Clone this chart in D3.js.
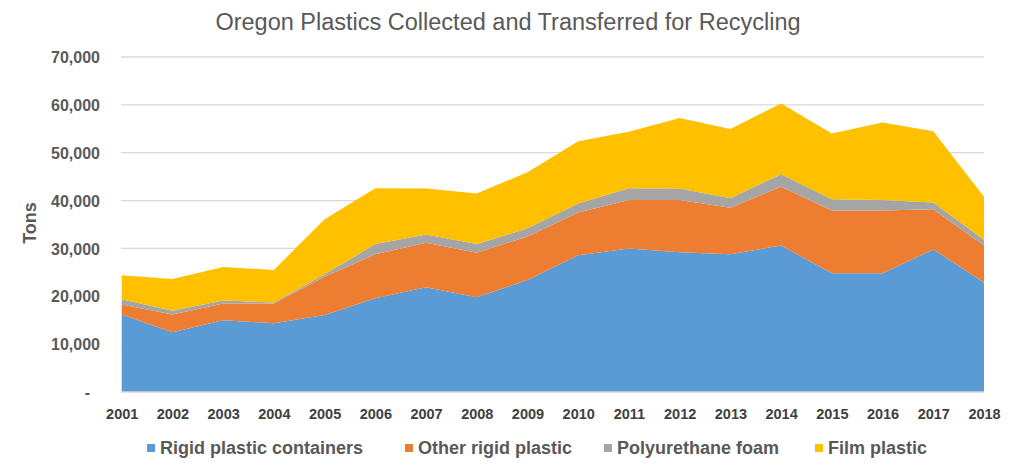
<!DOCTYPE html>
<html><head><meta charset="utf-8">
<script src="https://cdn.jsdelivr.net/npm/d3@7"></script>
<style>body{margin:0;background:#fff}svg{display:block}</style>
</head><body>
<script>
const years = [2001,2002,2003,2004,2005,2006,2007,2008,2009,2010,2011,2012,2013,2014,2015,2016,2017,2018];
const rigidContainers = [16200,12500,15000,14350,16100,19600,21900,19800,23400,28600,30000,29200,28800,30600,24800,24800,29800,22900];
const otherRigid = [2100,3700,3500,4150,8000,9200,9300,9300,9100,8900,10100,10900,9700,12300,13100,13100,8400,7700];
const polyFoam = [1100,800,600,200,500,2100,1700,1800,1700,1900,2500,2400,2000,2600,2400,2200,1400,1200];
const filmPlastic = [5000,6600,7000,6800,11500,11700,9600,10600,11700,13000,11800,14750,14450,14800,13700,16200,14900,9000];
const seriesNames = ["Rigid plastic containers","Other rigid plastic","Polyurethane foam","Film plastic"];
const colors = ["#5B9BD5","#ED7D31","#A5A5A5","#FFC000"];
const yTicks = [0,10000,20000,30000,40000,50000,60000,70000];

const W=1015,H=466;
const svg=d3.select("body").append("svg").attr("width",W).attr("height",H);
const x=d3.scalePoint().domain(years).range([121.7,984]);
const y=d3.scaleLinear().domain([0,70000]).range([392,57]);

const rows=years.map((yr,i)=>({year:yr,a:rigidContainers[i],b:otherRigid[i],c:polyFoam[i],d:filmPlastic[i]}));
const stack=d3.stack().keys(["a","b","c","d"])(rows);

// gridlines
svg.append("g").selectAll("line").data(yTicks.filter(t=>t>0)).join("line")
  .attr("x1",121).attr("x2",984).attr("y1",d=>y(d)).attr("y2",d=>y(d))
  .attr("stroke","#d9d9d9").attr("stroke-width",1.3);

const area=d3.area().x(d=>x(d.data.year)).y0(d=>y(d[0])).y1(d=>y(d[1]));
svg.append("g").selectAll("path").data(stack).join("path")
  .attr("d",area).attr("fill",(d,i)=>colors[i]);

// baseline
svg.append("line").attr("x1",121).attr("x2",984).attr("y1",y(0)).attr("y2",y(0)).attr("stroke","#d9d9d9").attr("stroke-width",1.3);

// y axis
const yAxis=d3.axisLeft(y).tickValues(yTicks).tickSize(0).tickPadding(0)
  .tickFormat(d=>d===0?"-":d3.format(",")(d));
const ga=svg.append("g").attr("transform","translate(100,0)").call(yAxis);
ga.select(".domain").remove();
ga.selectAll("text").attr("font-family","'Liberation Sans',Arial,sans-serif").attr("font-weight","bold")
  .attr("font-size","16px").attr("fill","#595959").attr("dy","0.35em")
  .attr("dx",d=>d===0?"-10":"0");

// x axis
const xAxis=d3.axisBottom(x).tickSize(0).tickPadding(0);
const gx=svg.append("g").attr("transform","translate(0,409)").call(xAxis);
gx.select(".domain").remove();
gx.selectAll("text").attr("font-family","'Liberation Sans',Arial,sans-serif").attr("font-weight","bold")
  .attr("font-size","14.5px").attr("fill","#404040").attr("dy","0.71em");

// title
svg.append("text").attr("x",508).attr("y",30).attr("text-anchor","middle")
  .attr("font-family","'Liberation Sans',Arial,sans-serif").attr("font-size","23.5px").attr("fill","#595959")
  .text("Oregon Plastics Collected and Transferred for Recycling");

// y label
svg.append("text").attr("transform","translate(36,223) rotate(-90)").attr("text-anchor","middle")
  .attr("font-family","'Liberation Sans',Arial,sans-serif").attr("font-weight","bold").attr("font-size","18px").attr("fill","#595959")
  .text("Tons");

// legend
const legX=[147,405,604,815];
const lg=svg.append("g").selectAll("g").data(seriesNames).join("g")
  .attr("transform",(d,i)=>`translate(${legX[i]},448)`);
lg.append("rect").attr("x",0).attr("y",-4).attr("width",8).attr("height",8).attr("fill",(d,i)=>colors[i]);
lg.append("text").attr("x",13).attr("dy","0.36em")
  .attr("font-family","'Liberation Sans',Arial,sans-serif").attr("font-weight","bold").attr("font-size","18px").attr("fill","#595959")
  .text(d=>d);
</script>
</body></html>
